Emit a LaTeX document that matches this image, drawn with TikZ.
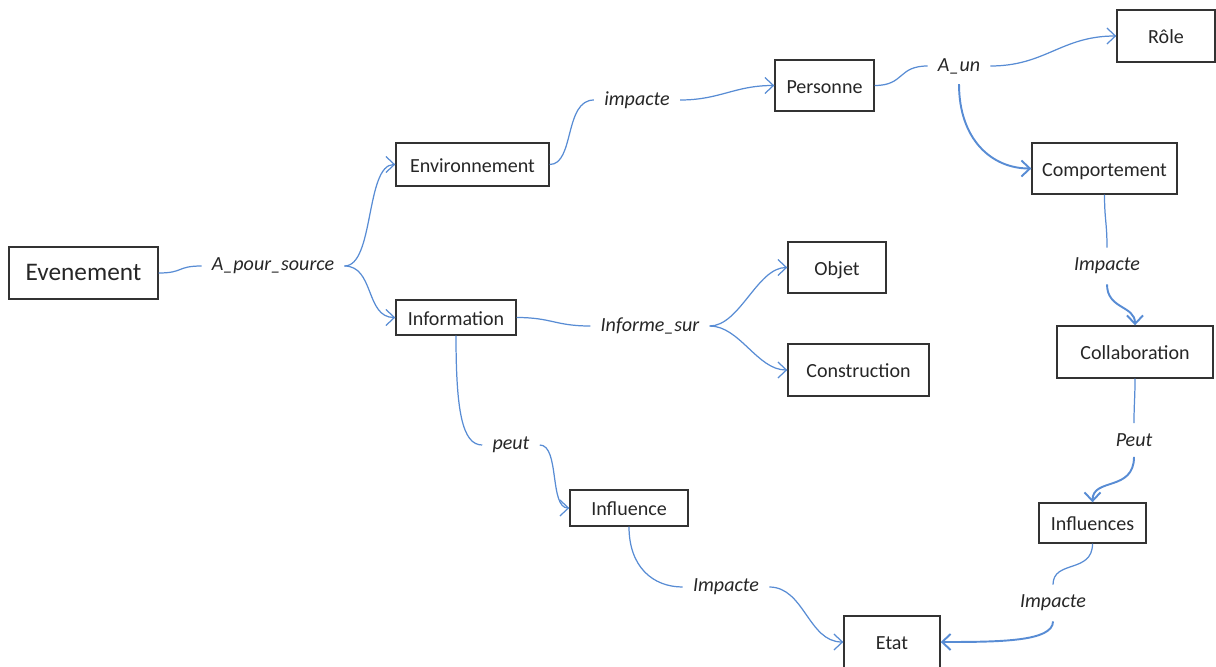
\documentclass[tikz,border=0pt]{standalone}
\usepackage{fontspec}
\setmainfont{Carlito}
\usetikzlibrary{arrows.meta}
\definecolor{lienbleu}{RGB}{88,140,212}

\begin{document}
\begin{tikzpicture}[x=0.02cm,y=-0.02cm,
  >={Straight Barb[length=1.7mm,width=3.2mm]},
  every node/.style={font=\fontsize{11.4}{13}\selectfont,text=black!85},
  boite/.style={draw=black!80,line width=0.8pt,inner sep=0pt,
                text height=2ex,text depth=0.2ex},
  rel/.style={font=\fontsize{11.4}{13}\selectfont\itshape,inner sep=0.2cm},
  lien/.style={draw=lienbleu,line width=0.7pt},
  fort/.style={line width=1.1pt}]
\useasboundingbox (0,0) rectangle (1216,666);

% boites
\node[boite,minimum width=2.98cm,minimum height=1.04cm,
      font=\fontsize{14.4}{16}\selectfont] (ev) at (83.5,273) {Evenement};
\node[boite,minimum width=3.06cm,minimum height=0.86cm] (env)   at (472.5,164.5) {Environnement};
\node[boite,minimum width=2.40cm,minimum height=0.70cm] (info)  at (456,317.5)   {Information};
\node[boite,minimum width=1.98cm,minimum height=1.02cm] (per)   at (824.5,85.5)  {Personne};
\node[boite,minimum width=1.96cm,minimum height=1.04cm] (role)  at (1166,36)     {Rôle};
\node[boite,minimum width=2.90cm,minimum height=1.02cm] (comp)  at (1104.5,168.5){Comportement};
\node[boite,minimum width=1.96cm,minimum height=1.02cm] (obj)   at (837,267.5)   {Objet};
\node[boite,minimum width=2.82cm,minimum height=1.04cm] (cons)  at (858.5,370)   {Construction};
\node[boite,minimum width=3.12cm,minimum height=1.04cm] (colab) at (1135,352)    {Collaboration};
\node[boite,minimum width=2.14cm,minimum height=0.80cm] (infs)  at (1092.5,523)  {Influences};
\node[boite,minimum width=2.36cm,minimum height=0.72cm] (infl)  at (629,508)     {Influence};
\node[boite,minimum width=1.92cm,minimum height=1.04cm] (etat)  at (892,642)     {Etat};

% relations
\node[rel] (src)    at (273,266)  {A\_pour\_source};
\node[rel] (imp)    at (637,100)  {impacte};
\node[rel] (aun)    at (959,66)   {A\_un};
\node[rel] (impc)   at (1107,266) {Impacte};
\node[rel] (infsur) at (650,326)  {Informe\_sur};
\node[rel] (peut)   at (511,445)  {peut};
\node[rel] (impi)   at (726,587)  {Impacte};
\node[rel] (peutc)  at (1134,440) {Peut};
\node[rel] (impe)   at (1053,603) {Impacte};

% liens
\draw[lien] (ev.east) .. controls +(25,0) and +(-25,0) .. (src.west);
\draw[lien,->] (src.east) .. controls +(30,0) and +(-30,0) .. (env.west);
\draw[lien,->] (src.east) .. controls +(30,0) and +(-30,0) .. (info.west);
\draw[lien] (env.east) .. controls +(25,0) and +(-30,0) .. (imp.west);
\draw[lien,->] (imp.east) .. controls +(40,0) and +(-40,0) .. (per.west);
\draw[lien] (per.east) .. controls +(30,0) and +(-30,0) .. (aun.west);
\draw[lien,->] (aun.east) .. controls +(55,0) and +(-55,0) .. (role.west);
\draw[lien,fort,->] (aun.south) .. controls +(0,55) and +(-40,0) .. (comp.west);
\draw[lien] (comp.south) .. controls +(0,25) and +(0,-25) .. (impc.north);
\draw[lien,fort,->] (impc.south) .. controls +(0,25) and +(0,-20) .. (colab.north);
\draw[lien] (colab.south) .. controls +(0,20) and +(0,-20) .. (peutc.north);
\draw[lien,fort,->] (peutc.south) .. controls +(0,35) and +(0,-25) .. (infs.north);
\draw[lien] (infs.south) .. controls +(0,30) and +(0,-25) .. (impe.north);
\draw[lien,fort,->] (impe.south) .. controls +(0,20) and +(60,0) .. (etat.east);
\draw[lien] (info.east) .. controls +(35,0) and +(-35,0) .. (infsur.west);
\draw[lien,->] (infsur.east) .. controls +(30,0) and +(-30,0) .. (obj.west);
\draw[lien,->] (infsur.east) .. controls +(30,0) and +(-30,0) .. (cons.west);
\draw[lien] (info.south) .. controls +(0,75) and +(-20,0) .. (peut.west);
\draw[lien,->] (peut.east) .. controls +(20,0) and +(-20,0) .. (infl.west);
\draw[lien] (infl.south) .. controls +(0,40) and +(-30,0) .. (impi.west);
\draw[lien,->] (impi.east) .. controls +(35,0) and +(-35,0) .. (etat.west);
\end{tikzpicture}
\end{document}
